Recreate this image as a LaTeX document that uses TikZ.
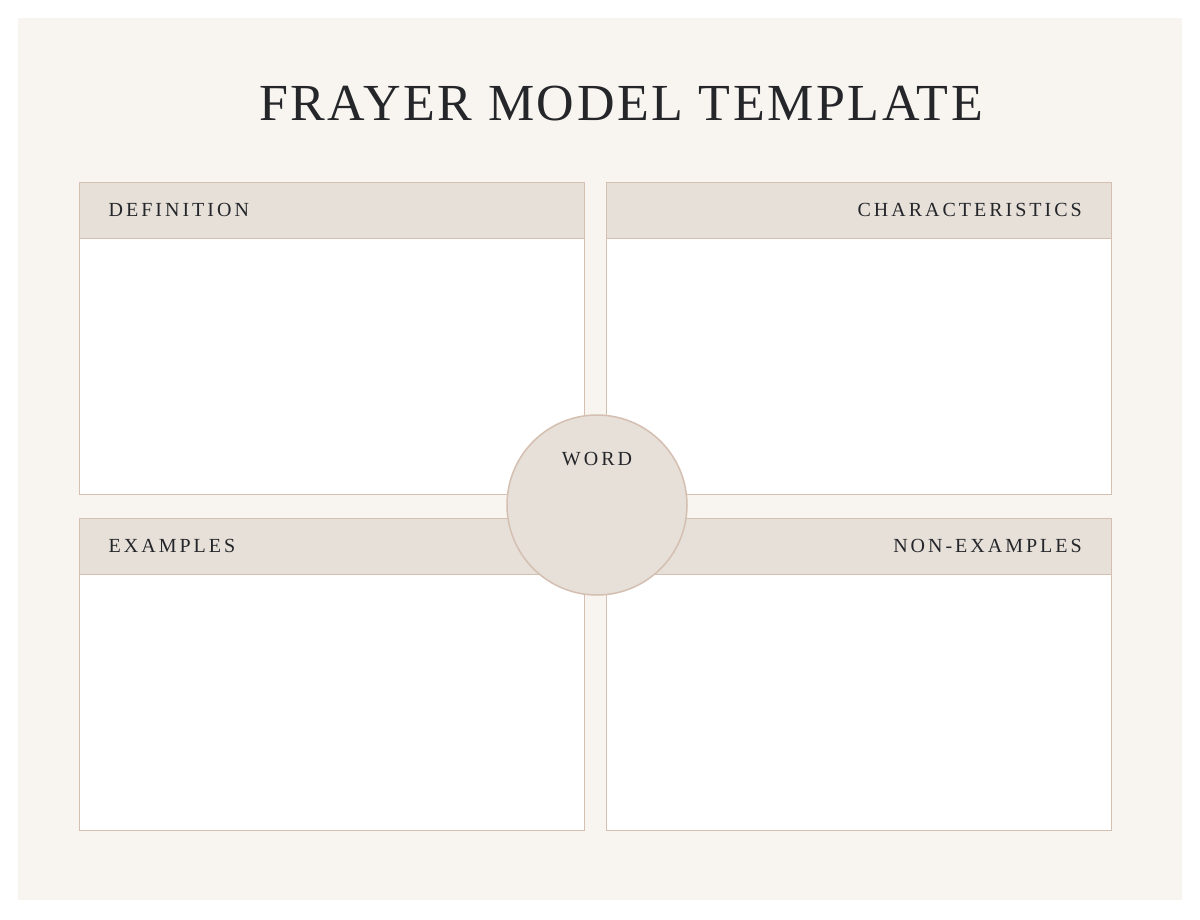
\documentclass[tikz,border=0pt]{standalone}
\usepackage{fontspec}
\setmainfont{Liberation Serif}
\newfontfamily\titlefont[LetterSpace=5]{Liberation Serif}
\newfontfamily\headfont[LetterSpace=15]{Liberation Serif}
\usepackage{tikz}
\definecolor{paper}{HTML}{F8F5F0}
\definecolor{headfill}{HTML}{E6E0D9}
\definecolor{rim}{HTML}{D4BFB1}
\definecolor{ink}{HTML}{25262A}

\begin{document}
\begin{tikzpicture}[x=1pt,y=-1pt,
  panel/.style={draw=rim,line width=1.5pt,fill=white,minimum width=505pt,minimum height=312pt,inner sep=0pt,anchor=north west},
  head/.style={draw=rim,line width=1.5pt,fill=headfill,minimum width=505pt,minimum height=56pt,inner sep=0pt,anchor=north},
  tag/.style={text=ink,font=\headfont\fontsize{20}{24}\selectfont,inner sep=0pt}]
\useasboundingbox (0,0) rectangle (1200,919);
\fill[white] (0,0) rectangle (1200,919);
\fill[paper] (18,18) rectangle (1182,900);
\node [text=ink,font=\titlefont\fontsize{52}{60}\selectfont] (title) at (621,104) {FRAYER MODEL TEMPLATE};
% four quadrants
\node [panel] (def) at (78.5,181.5) {};
\node [panel] (char) at (605.5,181.5) {};
\node [panel] (ex) at (78.5,517.5) {};
\node [panel] (non) at (605.5,517.5) {};
\node [head] (defh) at (def.north) {};
\node [head] (charh) at (char.north) {};
\node [head] (exh) at (ex.north) {};
\node [head] (nonh) at (non.north) {};
\node [tag,anchor=west] (deft) at ([xshift=30pt]defh.west) {DEFINITION};
\node [tag,anchor=east] (chart) at ([xshift=-30pt]charh.east) {CHARACTERISTICS};
\node [tag,anchor=west] (ext) at ([xshift=30pt]exh.west) {EXAMPLES};
\node [tag,anchor=east] (nont) at ([xshift=-30pt]nonh.east) {NON-EXAMPLES};
% the word in the middle
\node [circle,draw=rim,line width=1.5pt,fill=headfill,minimum size=180pt,inner sep=0pt] (word) at (597,505) {};
\node [tag] (wordt) at ([yshift=46pt]word.center) {WORD};
\end{tikzpicture}
\end{document}
